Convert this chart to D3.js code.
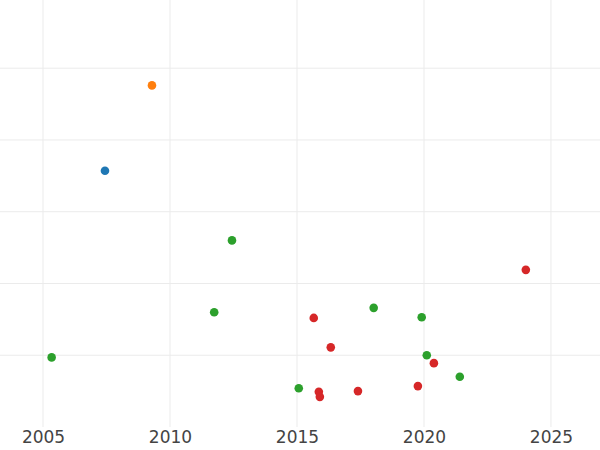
<!DOCTYPE html>
<html><head><meta charset="utf-8">
<script src="https://cdn.jsdelivr.net/npm/d3@7"></script>
<style>body{margin:0;background:#fff}</style></head>
<body><svg id="c" width="600" height="450"></svg>
<script>
const groups = ["blue","orange","green","red"];
const groupColors = ["#1f77b4","#ff7f0e","#2ca02c","#d62728"];
const xYears = [2007.44,2009.29,2005.34,2011.74,2012.44,2015.07,2018.02,2019.91,2020.11,2021.41,2015.66,2016.33,2015.86,2015.9,2017.4,2019.76,2020.39,2024.01];
const yValues = [3.57,4.76,0.97,1.60,2.60,0.54,1.66,1.53,1.00,0.70,1.52,1.11,0.49,0.42,0.50,0.57,0.89,2.19];
const pointGroup = ["blue","orange","green","green","green","green","green","green","green","green","red","red","red","red","red","red","red","red"];
const xTicks = [2005,2010,2015,2020,2025];
const yTicks = [1,2,3,4,5];

const svg = d3.select("#c");
const x = d3.scaleLinear().domain([2003.307,2026.93]).range([0,600]);
const y = d3.scaleLinear().domain([0,5.95]).range([427,0]);
const color = d3.scaleOrdinal().domain(groups).range(groupColors);

svg.append("g").selectAll("line").data(yTicks).join("line")
  .attr("x1",0).attr("x2",600).attr("y1",d=>y(d)).attr("y2",d=>y(d))
  .attr("stroke","#ebebeb").attr("stroke-width",1);
svg.append("g").selectAll("line").data(xTicks).join("line")
  .attr("y1",0).attr("y2",427).attr("x1",d=>x(d)).attr("x2",d=>x(d))
  .attr("stroke","#ebebeb").attr("stroke-width",1);

const ax = svg.append("g").attr("transform","translate(0,427)")
  .call(d3.axisBottom(x).tickValues(xTicks).tickFormat(d3.format("d")).tickSize(0).tickPadding(4));
ax.select(".domain").remove();
ax.selectAll("text").attr("font-family","DejaVu Sans, sans-serif").attr("font-size",17).attr("fill","#444");

svg.append("g").selectAll("circle").data(xYears.map((v,i)=>({x:v,y:yValues[i],g:pointGroup[i]}))).join("circle")
  .attr("cx",d=>x(d.x)).attr("cy",d=>y(d.y)).attr("r",4.3).attr("fill",d=>color(d.g));
</script></body></html>
